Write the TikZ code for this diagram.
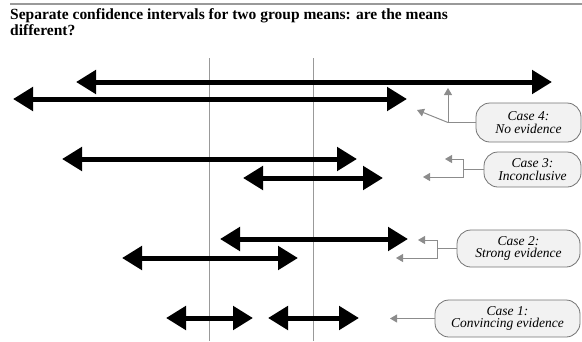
\documentclass[tikz,border=0pt]{standalone}
\usepackage{fontspec}
\setmainfont{Liberation Serif}
\usetikzlibrary{arrows.meta,positioning}

\definecolor{pointgray}{gray}{0.55}
\definecolor{boxgray}{gray}{0.45}
\definecolor{boxfill}{gray}{0.95}
\definecolor{rulegray}{gray}{0.6}

\tikzset{
  interval/.style={line width=5pt,
    {Triangle[length=20pt,width=23pt]}-{Triangle[length=20pt,width=23pt]}},
  pointer/.style={draw=pointgray, line width=1pt, -{Triangle[length=7pt,width=8pt]}},
  pointline/.style={draw=pointgray, line width=1pt},
  casebox/.style={draw=boxgray, fill=boxfill, rounded corners=14pt, line width=0.8pt,
    align=center, inner sep=0pt, font=\fontsize{13.5}{12.5}\selectfont\itshape},
  heading/.style={anchor=base west, inner sep=0pt, font=\fontsize{15.5}{16}\selectfont\bfseries},
}

\begin{document}
\begin{tikzpicture}[x=1pt,y=-1pt]
    \useasboundingbox (0,0) rectangle (582,341);

    % heading
    \draw[rulegray, line width=1.5pt] (10,4) -- (582,4);
    \node[heading] (title1) at (10,19)
      {Separate confidence intervals for two group means: are the means};
    \node[heading] (title2) at (10,35) {different?};

    % the two reference lines
    \draw[rulegray, line width=0.8pt] (209,58) -- (209,341);
    \draw[rulegray, line width=0.8pt] (313,58) -- (313,341);

    % intervals
    \foreach \xa/\xb/\y in {76/552/82, 13/407/99, 62/357/159, 243/383/178,
                            220/408/239, 122/298/258, 166/253/318, 268/359/318}
      \draw[interval] (\xa,\y) -- (\xb,\y);

    % cases
    \node[casebox, minimum width=105pt, minimum height=39pt] (case4) at (528.5,122.5)
      {Case 4:\\No evidence};
    \node[casebox, minimum width=97pt, minimum height=35pt] (case3) at (532.5,169.5)
      {Case 3:\\Inconclusive};
    \node[casebox, minimum width=123pt, minimum height=37pt] (case2) at (518.5,248.5)
      {Case 2:\\Strong evidence};
    \node[casebox, minimum width=145pt, minimum height=37pt] (case1) at (507.5,318.5)
      {Case 1:\\Convincing evidence};

    \coordinate (c4fork) at (448,122.5);
    \coordinate (c4up) at (448,88);
    \coordinate (c4diag) at (417,110);
    \coordinate (c3fork) at (463,169.5);
    \coordinate (c3top) at (445,159);
    \coordinate (c3bot) at (423,177);
    \coordinate (c2fork) at (437,248.5);
    \coordinate (c2top) at (418,240);
    \coordinate (c2bot) at (396,258);
    \coordinate (c1tip) at (390,318.5);

    \draw[pointline] (case4.west) -- (c4fork);
    \draw[pointer] (c4fork) -- (c4up);
    \draw[pointer] (c4fork) -- (c4diag);
    \draw[pointline] (case3.west) -- (c3fork);
    \draw[pointer] (c3fork) |- (c3top);
    \draw[pointer] (c3fork) |- (c3bot);
    \draw[pointline] (case2.west) -- (c2fork);
    \draw[pointer] (c2fork) |- (c2top);
    \draw[pointer] (c2fork) |- (c2bot);
    \draw[pointer] (case1.west) -- (c1tip);
\end{tikzpicture}
\end{document}
